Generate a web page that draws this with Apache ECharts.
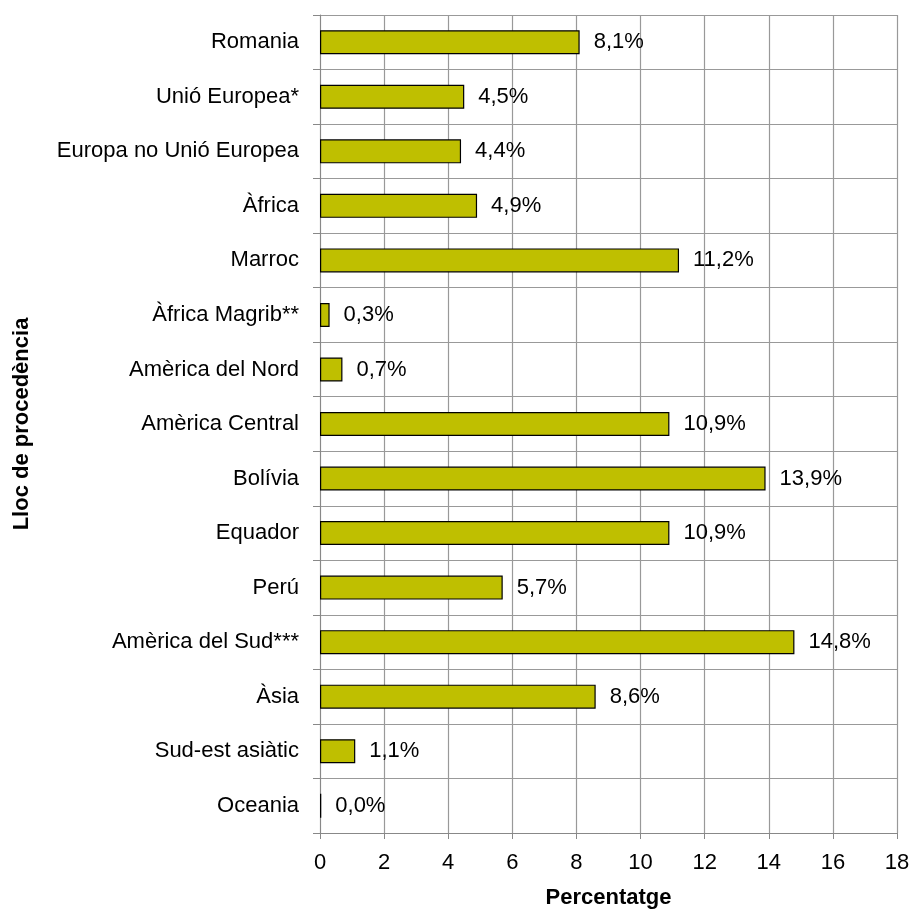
<!DOCTYPE html>
<html>
<head>
<meta charset="utf-8">
<script src="https://cdn.jsdelivr.net/npm/echarts@6/dist/echarts.min.js"></script>
<style>html,body{margin:0;padding:0;background:#fff}#c{width:914px;height:909px}</style>
</head>
<body>
<div id="c"></div>
<script>
const categories = ['Romania','Unió Europea*','Europa no Unió Europea','Àfrica','Marroc','Àfrica Magrib**','Amèrica del Nord','Amèrica Central','Bolívia','Equador','Perú','Amèrica del Sud***','Àsia','Sud-est asiàtic','Oceania'];
const values = [8.1, 4.5, 4.4, 4.9, 11.2, 0.3, 0.7, 10.9, 13.9, 10.9, 5.7, 14.8, 8.6, 1.1, 0.04];
const xTicks = [0, 2, 4, 6, 8, 10, 12, 14, 16, 18];

const chart = echarts.init(document.getElementById('c'), null, {renderer: 'canvas'});
const font = 'Liberation Sans, Arial, sans-serif';
chart.setOption({
  animation: false,
  grid: {left: 320, right: 17, top: 15, bottom: 76, containLabel: false, outerBoundsMode: 'none'},
  xAxis: {
    type: 'value', min: xTicks[0], max: xTicks[xTicks.length-1], interval: 2,
    name: 'Percentatge', nameLocation: 'middle', nameGap: 54,
    nameTextStyle: {fontFamily: font, fontSize: 22, fontWeight: 'bold', color: '#000'},
    axisLine: {show: true, lineStyle: {color: '#888', width: 1}},
    axisTick: {show: true, length: 6, lineStyle: {color: '#888'}},
    axisLabel: {fontFamily: font, fontSize: 22, color: '#000', margin: 19},
    splitLine: {show: true, lineStyle: {color: '#999', width: 1.2}}
  },
  yAxis: {
    type: 'category', data: categories, inverse: true,
    name: 'Lloc de procedència', nameLocation: 'middle', nameGap: 287, nameRotate: 90,
    nameTextStyle: {fontFamily: font, fontSize: 22, fontWeight: 'bold', color: '#000'},
    axisLine: {show: true, lineStyle: {color: '#888', width: 1}},
    axisTick: {show: true, length: 7, lineStyle: {color: '#888'}},
    axisLabel: {fontFamily: font, fontSize: 22, color: '#000', margin: 21},
    splitLine: {show: true, lineStyle: {color: '#999', width: 1.2}}
  },
  series: [{
    type: 'bar', data: values, barWidth: '44%',
    itemStyle: {color: '#BFBF00', borderColor: '#000', borderWidth: 1.2},
    label: {
      show: true, position: 'right', distance: 14,
      fontFamily: font, fontSize: 22, color: '#000',
      formatter: p => p.value.toFixed(1).replace('.', ',') + '%'
    }
  }]
});
</script>
</body>
</html>
